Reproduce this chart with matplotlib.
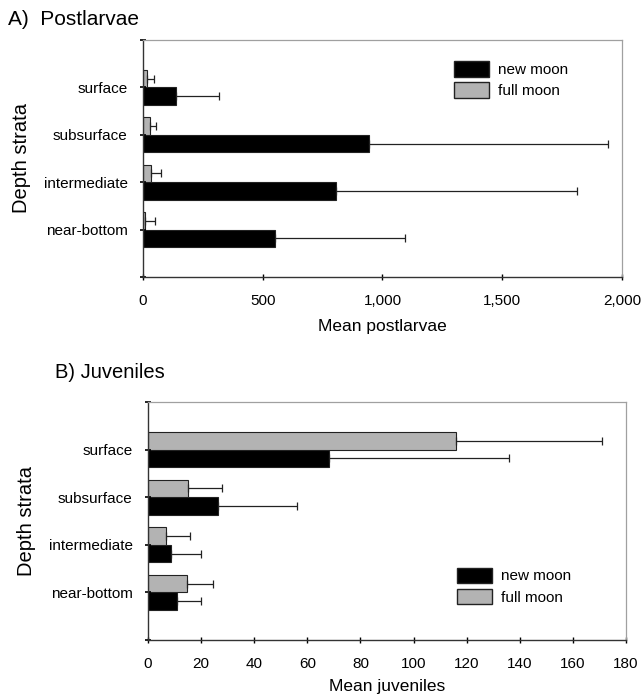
import numpy as np
import matplotlib.pyplot as plt
from matplotlib.patches import Patch

plt.rcParams['font.family'] = ['Liberation Sans', 'DejaVu Sans']

strata = ['surface', 'subsurface', 'intermediate', 'near-bottom']

# A) postlarvae: means and upper error bar end
post_new = [138, 944, 806, 551]
post_new_hi = [317, 1941, 1812, 1092]
post_full = [17, 29, 33, 8]
post_full_hi = [46, 54, 75, 50]

# B) juveniles
juv_new = [68, 26.5, 8.6, 11]
juv_new_hi = [136, 56, 20, 20]
juv_full = [116, 15, 6.8, 14.6]
juv_full_hi = [171, 28, 16, 24.4]

post_ticks = [0, 500, 1000, 1500, 2000]
post_ticklabels = ['0', '500', '1,000', '1,500', '2,000']
juv_ticks = [0, 20, 40, 60, 80, 100, 120, 140, 160, 180]

fig = plt.figure(figsize=(6.42, 6.98), dpi=100)
axA = fig.add_axes([0.2227, 0.6032, 0.7461, 0.3395])
axB = fig.add_axes([0.2305, 0.0831, 0.7445, 0.341])

gray = '#b3b3b3'
h = 0.37
pos = np.array([4, 3, 2, 1])


def panel(ax, new, new_hi, full, full_hi, xmax):
    new = np.array(new)
    full = np.array(full)
    e_new = np.array(new_hi) - new
    e_full = np.array(full_hi) - full
    ax.barh(pos - h / 2, new, height=h, color='black', edgecolor='#222222', linewidth=0.8,
            xerr=[np.zeros(4), e_new], error_kw=dict(ecolor='#222222', elinewidth=0.9, capsize=3, capthick=0.9))
    ax.barh(pos + h / 2, full, height=h, color=gray, edgecolor='#222222', linewidth=0.8,
            xerr=[np.zeros(4), e_full], error_kw=dict(ecolor='#222222', elinewidth=0.9, capsize=3, capthick=0.9))
    ax.set_xlim(0, xmax)
    ax.set_ylim(0, 5)
    ax.set_yticks([0, 1, 2, 3, 4, 5])
    ax.set_yticklabels(['', strata[3], strata[2], strata[1], strata[0], ''], fontsize=11)
    ax.tick_params(axis='y', length=4, width=1.2, direction='inout', pad=9)
    ax.tick_params(axis='x', length=4, width=1.0, direction='inout', labelsize=11, pad=10)
    for s in ['top', 'right']:
        ax.spines[s].set_color('#a0a0a0')
        ax.spines[s].set_linewidth(0.9)
    for s in ['left', 'bottom']:
        ax.spines[s].set_color('#333333')
        ax.spines[s].set_linewidth(1.0)
    ax.set_ylabel('Depth strata', fontsize=14.5, labelpad=9)


panel(axA, post_new, post_new_hi, post_full, post_full_hi, 2000)
axA.set_xticks(post_ticks)
axA.set_xticklabels(post_ticklabels)
axA.set_xlabel('Mean postlarvae', fontsize=12.5, labelpad=8)

panel(axB, juv_new, juv_new_hi, juv_full, juv_full_hi, 180)
axB.set_xticks(juv_ticks)
axB.set_xlabel('Mean juveniles', fontsize=12.5, labelpad=6)

handles = [Patch(facecolor='black', edgecolor='#222222', label='new moon'),
           Patch(facecolor=gray, edgecolor='#222222', label='full moon')]
axA.legend(handles=handles, loc='upper left', bbox_to_anchor=(0.62, 0.97), frameon=False,
           fontsize=11, handlelength=2.3, handleheight=1.2, labelspacing=0.35, handletextpad=0.6)
axB.legend(handles=handles, loc='lower left', bbox_to_anchor=(0.618, 0.09), frameon=False,
           fontsize=11, handlelength=2.3, handleheight=1.2, labelspacing=0.35, handletextpad=0.6)

fig.text(0.012, 0.972, 'A)  Postlarvae', fontsize=15, va='center', ha='left')
fig.text(0.086, 0.466, 'B) Juveniles', fontsize=14.5, va='center', ha='left')

fig.savefig('out.png', dpi=100)
